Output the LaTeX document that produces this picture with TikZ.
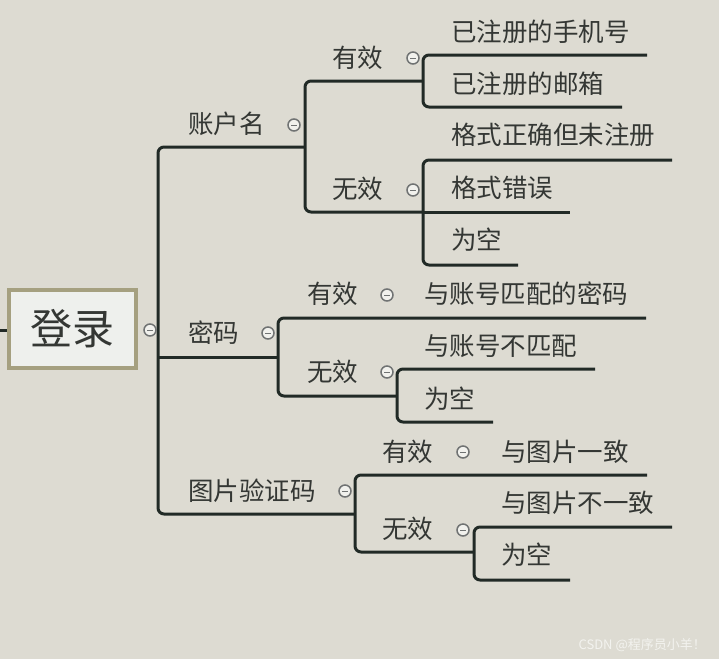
\documentclass[tikz,border=0pt]{standalone}
\usepackage{fontspec}
\newfontfamily\cjk{Noto Sans CJK SC}
\definecolor{bg}{RGB}{221,219,210}
\definecolor{ln}{RGB}{33,42,38}
\definecolor{tx}{RGB}{52,55,52}
\definecolor{rootborder}{RGB}{165,160,128}
\definecolor{rootfill}{RGB}{238,240,237}
\definecolor{icon}{RGB}{112,115,115}
\begin{document}
\begin{tikzpicture}[x=1pt,y=-1pt,
  lbl/.style={anchor=west,inner sep=0pt,text=tx,font=\cjk\fontsize{25.5}{26}\selectfont},
  conn/.style={draw=ln,line width=3pt,rounded corners=6pt},
  fold/.style={circle,draw=icon,line width=1.5pt,fill=bg!40!white,minimum size=12pt,inner sep=0pt,
    path picture={\draw[icon,line width=1pt] ([xshift=-3pt]path picture bounding box.center) -- ([xshift=3pt]path picture bounding box.center);}},
  rootbox/.style={draw=rootborder,line width=4pt,fill=rootfill,minimum width=127pt,minimum height=78pt,inner sep=0pt,text=tx,font=\cjk\fontsize{42}{42}\selectfont}]
\fill[bg] (0,0) rectangle (719,659);
\useasboundingbox (0,0) rectangle (719,659);

% coordinates
\coordinate (lstub) at (0,330);
\coordinate (trA) at (305,147);
\coordinate (trTop) at (158,147);
\coordinate (trBot) at (158,514);
\coordinate (trC) at (355,514);
\coordinate (trBs) at (158,357);
\coordinate (trB) at (278,357);
% 账户名 bracket
\coordinate (aTopR) at (423,81);
\coordinate (aTop) at (305,81);
\coordinate (aBot) at (305,212);
\coordinate (aBotR) at (423,212);
\coordinate (a1Top) at (423,55);
\coordinate (a1TopR) at (647,55);
\coordinate (a1Bot) at (423,107);
\coordinate (a1BotR) at (622,107);
\coordinate (a2Top) at (423,160);
\coordinate (a2TopR) at (672,160);
\coordinate (a2MidR) at (570,212);
\coordinate (a2Bot) at (423,265);
\coordinate (a2BotR) at (518,265);
% 密码 bracket
\coordinate (bTop) at (278,318);
\coordinate (bTopR) at (646,318);
\coordinate (bBot) at (278,396);
\coordinate (bBotR) at (397,396);
\coordinate (b2Top) at (397,369);
\coordinate (b2TopR) at (595,369);
\coordinate (b2Bot) at (397,422);
\coordinate (b2BotR) at (493,422);
% 图片验证码 bracket
\coordinate (cTop) at (355,475);
\coordinate (cTopR) at (647,475);
\coordinate (cBot) at (355,552);
\coordinate (cBotR) at (474,552);
\coordinate (c2Top) at (474,527);
\coordinate (c2TopR) at (672,527);
\coordinate (c2Bot) at (474,580);
\coordinate (c2BotR) at (570,580);

% connectors
\draw[ln,line width=3pt] (lstub) -- (7,330);
\draw[conn] (trA) -- (trTop) -- (trBot) -- (trC);
\draw[conn] (trBs) -- (trB);
\draw[conn] (aTopR) -- (aTop) -- (aBot) -- (aBotR);
\draw[conn] (a1TopR) -- (a1Top) -- (a1Bot) -- (a1BotR);
\draw[conn] (a2TopR) -- (a2Top) -- (a2Bot) -- (a2BotR);
\draw[conn] (aBotR) -- (a2MidR);
\draw[conn] (bTopR) -- (bTop) -- (bBot) -- (bBotR);
\draw[conn] (b2TopR) -- (b2Top) -- (b2Bot) -- (b2BotR);
\draw[conn] (cTopR) -- (cTop) -- (cBot) -- (cBotR);
\draw[conn] (c2TopR) -- (c2Top) -- (c2Bot) -- (c2BotR);

% root
\node[rootbox] (root) at (72.5,329) {登录};
\node[fold] (f0) at (150,330) {};

% level 1
\node[lbl] (acct) at (188,124) {账户名};
\node[fold] (facct) at (294,125) {};
\node[lbl] (pwd) at (188,333) {密码};
\node[fold] (fpwd) at (268,333) {};
\node[lbl] (cap) at (188,491) {图片验证码};
\node[fold] (fcap) at (345,491) {};

% 账户名 children
\node[lbl] (aval) at (332,58) {有效};
\node[fold] (faval) at (413,58) {};
\node[lbl] (ainv) at (332,189) {无效};
\node[fold] (fainv) at (413,190) {};
\node[lbl] (a11) at (451,32) {已注册的手机号};
\node[lbl] (a12) at (451,84) {已注册的邮箱};
\node[lbl] (a21) at (451,135) {格式正确但未注册};
\node[lbl] (a22) at (451,188) {格式错误};
\node[lbl] (a23) at (451,240) {为空};

% 密码 children
\node[lbl] (bval) at (307,294) {有效};
\node[fold] (fbval) at (387,295) {};
\node[lbl] (binv) at (307,372) {无效};
\node[fold] (fbinv) at (387,372) {};
\node[lbl] (b11) at (424,294) {与账号匹配的密码};
\node[lbl] (b21) at (424,346) {与账号不匹配};
\node[lbl] (b22) at (424,399) {为空};

% 图片验证码 children
\node[lbl] (cval) at (382,452) {有效};
\node[fold] (fcval) at (463,452) {};
\node[lbl] (cinv) at (382,529) {无效};
\node[fold] (fcinv) at (463,530) {};
\node[lbl] (c11) at (501,452) {与图片一致};
\node[lbl] (c21) at (501,503) {与图片不一致};
\node[lbl] (c22) at (501,555) {为空};

% watermark
\node[anchor=east,inner sep=0pt,text=white!65!bg,font=\cjk\fontsize{13}{13}\selectfont] (wm) at (706,645) {CSDN @程序员小羊！};
\end{tikzpicture}
\end{document}
